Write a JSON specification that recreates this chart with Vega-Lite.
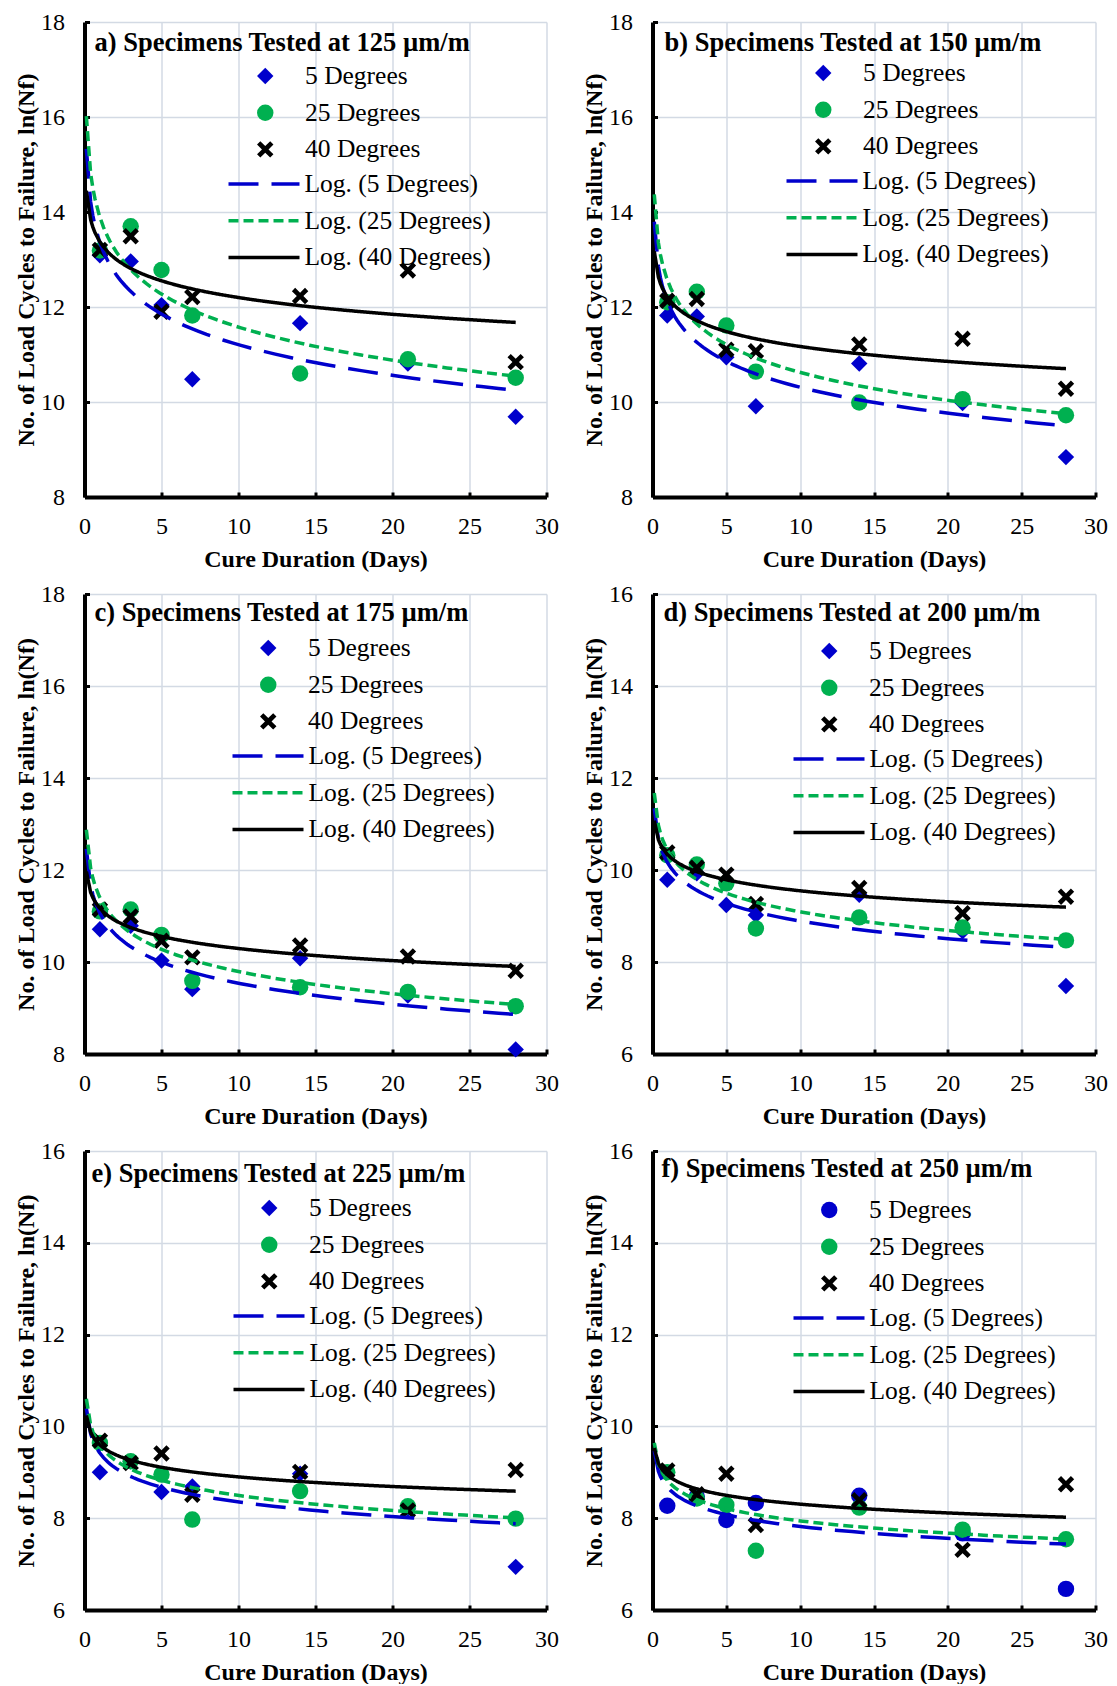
{
  "$schema": "https://vega.github.io/schema/vega-lite/v6.json",
  "background": "white",
  "padding": {"left": 14.5, "top": 10, "right": 0, "bottom": 0},
  "data": {"values": [
    {"p":"a","day":1,"v":13.09,"series":"5 Degrees","fit":"Log. (5 Degrees)"},
    {"p":"a","day":3,"v":12.96,"series":"5 Degrees","fit":"Log. (5 Degrees)"},
    {"p":"a","day":5,"v":12.04,"series":"5 Degrees","fit":"Log. (5 Degrees)"},
    {"p":"a","day":7,"v":10.48,"series":"5 Degrees","fit":"Log. (5 Degrees)"},
    {"p":"a","day":14,"v":11.66,"series":"5 Degrees","fit":"Log. (5 Degrees)"},
    {"p":"a","day":21,"v":10.81,"series":"5 Degrees","fit":"Log. (5 Degrees)"},
    {"p":"a","day":28,"v":9.69,"series":"5 Degrees","fit":"Log. (5 Degrees)"},
    {"p":"a","day":1,"v":13.19,"series":"25 Degrees","fit":"Log. (25 Degrees)"},
    {"p":"a","day":3,"v":13.70,"series":"25 Degrees","fit":"Log. (25 Degrees)"},
    {"p":"a","day":5,"v":12.78,"series":"25 Degrees","fit":"Log. (25 Degrees)"},
    {"p":"a","day":7,"v":11.82,"series":"25 Degrees","fit":"Log. (25 Degrees)"},
    {"p":"a","day":14,"v":10.60,"series":"25 Degrees","fit":"Log. (25 Degrees)"},
    {"p":"a","day":21,"v":10.90,"series":"25 Degrees","fit":"Log. (25 Degrees)"},
    {"p":"a","day":28,"v":10.51,"series":"25 Degrees","fit":"Log. (25 Degrees)"},
    {"p":"a","day":1,"v":13.20,"series":"40 Degrees","fit":"Log. (40 Degrees)"},
    {"p":"a","day":3,"v":13.49,"series":"40 Degrees","fit":"Log. (40 Degrees)"},
    {"p":"a","day":5,"v":11.90,"series":"40 Degrees","fit":"Log. (40 Degrees)"},
    {"p":"a","day":7,"v":12.21,"series":"40 Degrees","fit":"Log. (40 Degrees)"},
    {"p":"a","day":14,"v":12.23,"series":"40 Degrees","fit":"Log. (40 Degrees)"},
    {"p":"a","day":21,"v":12.77,"series":"40 Degrees","fit":"Log. (40 Degrees)"},
    {"p":"a","day":28,"v":10.84,"series":"40 Degrees","fit":"Log. (40 Degrees)"},

    {"p":"b","day":1,"v":11.82,"series":"5 Degrees","fit":"Log. (5 Degrees)"},
    {"p":"b","day":3,"v":11.80,"series":"5 Degrees","fit":"Log. (5 Degrees)"},
    {"p":"b","day":5,"v":10.94,"series":"5 Degrees","fit":"Log. (5 Degrees)"},
    {"p":"b","day":7,"v":9.91,"series":"5 Degrees","fit":"Log. (5 Degrees)"},
    {"p":"b","day":14,"v":10.81,"series":"5 Degrees","fit":"Log. (5 Degrees)"},
    {"p":"b","day":21,"v":9.98,"series":"5 Degrees","fit":"Log. (5 Degrees)"},
    {"p":"b","day":28,"v":8.84,"series":"5 Degrees","fit":"Log. (5 Degrees)"},
    {"p":"b","day":1,"v":12.10,"series":"25 Degrees","fit":"Log. (25 Degrees)"},
    {"p":"b","day":3,"v":12.32,"series":"25 Degrees","fit":"Log. (25 Degrees)"},
    {"p":"b","day":5,"v":11.61,"series":"25 Degrees","fit":"Log. (25 Degrees)"},
    {"p":"b","day":7,"v":10.64,"series":"25 Degrees","fit":"Log. (25 Degrees)"},
    {"p":"b","day":14,"v":9.99,"series":"25 Degrees","fit":"Log. (25 Degrees)"},
    {"p":"b","day":21,"v":10.06,"series":"25 Degrees","fit":"Log. (25 Degrees)"},
    {"p":"b","day":28,"v":9.72,"series":"25 Degrees","fit":"Log. (25 Degrees)"},
    {"p":"b","day":1,"v":12.13,"series":"40 Degrees","fit":"Log. (40 Degrees)"},
    {"p":"b","day":3,"v":12.17,"series":"40 Degrees","fit":"Log. (40 Degrees)"},
    {"p":"b","day":5,"v":11.10,"series":"40 Degrees","fit":"Log. (40 Degrees)"},
    {"p":"b","day":7,"v":11.07,"series":"40 Degrees","fit":"Log. (40 Degrees)"},
    {"p":"b","day":14,"v":11.21,"series":"40 Degrees","fit":"Log. (40 Degrees)"},
    {"p":"b","day":21,"v":11.33,"series":"40 Degrees","fit":"Log. (40 Degrees)"},
    {"p":"b","day":28,"v":10.28,"series":"40 Degrees","fit":"Log. (40 Degrees)"},

    {"p":"c","day":1,"v":10.71,"series":"5 Degrees","fit":"Log. (5 Degrees)"},
    {"p":"c","day":3,"v":10.79,"series":"5 Degrees","fit":"Log. (5 Degrees)"},
    {"p":"c","day":5,"v":10.03,"series":"5 Degrees","fit":"Log. (5 Degrees)"},
    {"p":"c","day":7,"v":9.41,"series":"5 Degrees","fit":"Log. (5 Degrees)"},
    {"p":"c","day":14,"v":10.08,"series":"5 Degrees","fit":"Log. (5 Degrees)"},
    {"p":"c","day":21,"v":9.27,"series":"5 Degrees","fit":"Log. (5 Degrees)"},
    {"p":"c","day":28,"v":8.10,"series":"5 Degrees","fit":"Log. (5 Degrees)"},
    {"p":"c","day":1,"v":11.10,"series":"25 Degrees","fit":"Log. (25 Degrees)"},
    {"p":"c","day":3,"v":11.14,"series":"25 Degrees","fit":"Log. (25 Degrees)"},
    {"p":"c","day":5,"v":10.59,"series":"25 Degrees","fit":"Log. (25 Degrees)"},
    {"p":"c","day":7,"v":9.59,"series":"25 Degrees","fit":"Log. (25 Degrees)"},
    {"p":"c","day":14,"v":9.45,"series":"25 Degrees","fit":"Log. (25 Degrees)"},
    {"p":"c","day":21,"v":9.35,"series":"25 Degrees","fit":"Log. (25 Degrees)"},
    {"p":"c","day":28,"v":9.04,"series":"25 Degrees","fit":"Log. (25 Degrees)"},
    {"p":"c","day":1,"v":11.14,"series":"40 Degrees","fit":"Log. (40 Degrees)"},
    {"p":"c","day":3,"v":10.99,"series":"40 Degrees","fit":"Log. (40 Degrees)"},
    {"p":"c","day":5,"v":10.46,"series":"40 Degrees","fit":"Log. (40 Degrees)"},
    {"p":"c","day":7,"v":10.10,"series":"40 Degrees","fit":"Log. (40 Degrees)"},
    {"p":"c","day":14,"v":10.36,"series":"40 Degrees","fit":"Log. (40 Degrees)"},
    {"p":"c","day":21,"v":10.12,"series":"40 Degrees","fit":"Log. (40 Degrees)"},
    {"p":"c","day":28,"v":9.81,"series":"40 Degrees","fit":"Log. (40 Degrees)"},

    {"p":"d","day":1,"v":9.79,"series":"5 Degrees","fit":"Log. (5 Degrees)"},
    {"p":"d","day":3,"v":9.93,"series":"5 Degrees","fit":"Log. (5 Degrees)"},
    {"p":"d","day":5,"v":9.24,"series":"5 Degrees","fit":"Log. (5 Degrees)"},
    {"p":"d","day":7,"v":9.02,"series":"5 Degrees","fit":"Log. (5 Degrees)"},
    {"p":"d","day":14,"v":9.46,"series":"5 Degrees","fit":"Log. (5 Degrees)"},
    {"p":"d","day":21,"v":8.67,"series":"5 Degrees","fit":"Log. (5 Degrees)"},
    {"p":"d","day":28,"v":7.48,"series":"5 Degrees","fit":"Log. (5 Degrees)"},
    {"p":"d","day":1,"v":10.32,"series":"25 Degrees","fit":"Log. (25 Degrees)"},
    {"p":"d","day":3,"v":10.12,"series":"25 Degrees","fit":"Log. (25 Degrees)"},
    {"p":"d","day":5,"v":9.71,"series":"25 Degrees","fit":"Log. (25 Degrees)"},
    {"p":"d","day":7,"v":8.73,"series":"25 Degrees","fit":"Log. (25 Degrees)"},
    {"p":"d","day":14,"v":8.97,"series":"25 Degrees","fit":"Log. (25 Degrees)"},
    {"p":"d","day":21,"v":8.75,"series":"25 Degrees","fit":"Log. (25 Degrees)"},
    {"p":"d","day":28,"v":8.47,"series":"25 Degrees","fit":"Log. (25 Degrees)"},
    {"p":"d","day":1,"v":10.38,"series":"40 Degrees","fit":"Log. (40 Degrees)"},
    {"p":"d","day":3,"v":10.05,"series":"40 Degrees","fit":"Log. (40 Degrees)"},
    {"p":"d","day":5,"v":9.90,"series":"40 Degrees","fit":"Log. (40 Degrees)"},
    {"p":"d","day":7,"v":9.26,"series":"40 Degrees","fit":"Log. (40 Degrees)"},
    {"p":"d","day":14,"v":9.61,"series":"40 Degrees","fit":"Log. (40 Degrees)"},
    {"p":"d","day":21,"v":9.06,"series":"40 Degrees","fit":"Log. (40 Degrees)"},
    {"p":"d","day":28,"v":9.42,"series":"40 Degrees","fit":"Log. (40 Degrees)"},

    {"p":"e","day":1,"v":9.00,"series":"5 Degrees","fit":"Log. (5 Degrees)"},
    {"p":"e","day":3,"v":9.24,"series":"5 Degrees","fit":"Log. (5 Degrees)"},
    {"p":"e","day":5,"v":8.57,"series":"5 Degrees","fit":"Log. (5 Degrees)"},
    {"p":"e","day":7,"v":8.69,"series":"5 Degrees","fit":"Log. (5 Degrees)"},
    {"p":"e","day":14,"v":8.97,"series":"5 Degrees","fit":"Log. (5 Degrees)"},
    {"p":"e","day":21,"v":8.20,"series":"5 Degrees","fit":"Log. (5 Degrees)"},
    {"p":"e","day":28,"v":6.94,"series":"5 Degrees","fit":"Log. (5 Degrees)"},
    {"p":"e","day":1,"v":9.64,"series":"25 Degrees","fit":"Log. (25 Degrees)"},
    {"p":"e","day":3,"v":9.24,"series":"25 Degrees","fit":"Log. (25 Degrees)"},
    {"p":"e","day":5,"v":8.95,"series":"25 Degrees","fit":"Log. (25 Degrees)"},
    {"p":"e","day":7,"v":7.97,"series":"25 Degrees","fit":"Log. (25 Degrees)"},
    {"p":"e","day":14,"v":8.59,"series":"25 Degrees","fit":"Log. (25 Degrees)"},
    {"p":"e","day":21,"v":8.26,"series":"25 Degrees","fit":"Log. (25 Degrees)"},
    {"p":"e","day":28,"v":7.99,"series":"25 Degrees","fit":"Log. (25 Degrees)"},
    {"p":"e","day":1,"v":9.69,"series":"40 Degrees","fit":"Log. (40 Degrees)"},
    {"p":"e","day":3,"v":9.20,"series":"40 Degrees","fit":"Log. (40 Degrees)"},
    {"p":"e","day":5,"v":9.41,"series":"40 Degrees","fit":"Log. (40 Degrees)"},
    {"p":"e","day":7,"v":8.51,"series":"40 Degrees","fit":"Log. (40 Degrees)"},
    {"p":"e","day":14,"v":9.01,"series":"40 Degrees","fit":"Log. (40 Degrees)"},
    {"p":"e","day":21,"v":8.17,"series":"40 Degrees","fit":"Log. (40 Degrees)"},
    {"p":"e","day":28,"v":9.05,"series":"40 Degrees","fit":"Log. (40 Degrees)"},

    {"p":"f","day":1,"v":8.27,"series":"5 Degrees","fit":"Log. (5 Degrees)"},
    {"p":"f","day":3,"v":8.47,"series":"5 Degrees","fit":"Log. (5 Degrees)"},
    {"p":"f","day":5,"v":7.96,"series":"5 Degrees","fit":"Log. (5 Degrees)"},
    {"p":"f","day":7,"v":8.33,"series":"5 Degrees","fit":"Log. (5 Degrees)"},
    {"p":"f","day":14,"v":8.49,"series":"5 Degrees","fit":"Log. (5 Degrees)"},
    {"p":"f","day":21,"v":7.67,"series":"5 Degrees","fit":"Log. (5 Degrees)"},
    {"p":"f","day":28,"v":6.46,"series":"5 Degrees","fit":"Log. (5 Degrees)"},
    {"p":"f","day":1,"v":9.00,"series":"25 Degrees","fit":"Log. (25 Degrees)"},
    {"p":"f","day":3,"v":8.43,"series":"25 Degrees","fit":"Log. (25 Degrees)"},
    {"p":"f","day":5,"v":8.29,"series":"25 Degrees","fit":"Log. (25 Degrees)"},
    {"p":"f","day":7,"v":7.29,"series":"25 Degrees","fit":"Log. (25 Degrees)"},
    {"p":"f","day":14,"v":8.23,"series":"25 Degrees","fit":"Log. (25 Degrees)"},
    {"p":"f","day":21,"v":7.75,"series":"25 Degrees","fit":"Log. (25 Degrees)"},
    {"p":"f","day":28,"v":7.54,"series":"25 Degrees","fit":"Log. (25 Degrees)"},
    {"p":"f","day":1,"v":9.04,"series":"40 Degrees","fit":"Log. (40 Degrees)"},
    {"p":"f","day":3,"v":8.52,"series":"40 Degrees","fit":"Log. (40 Degrees)"},
    {"p":"f","day":5,"v":8.97,"series":"40 Degrees","fit":"Log. (40 Degrees)"},
    {"p":"f","day":7,"v":7.85,"series":"40 Degrees","fit":"Log. (40 Degrees)"},
    {"p":"f","day":14,"v":8.39,"series":"40 Degrees","fit":"Log. (40 Degrees)"},
    {"p":"f","day":21,"v":7.31,"series":"40 Degrees","fit":"Log. (40 Degrees)"},
    {"p":"f","day":28,"v":8.74,"series":"40 Degrees","fit":"Log. (40 Degrees)"}
  ]},
  "columns": 2,
  "bounds": "flush",
  "spacing": {"row": 97, "column": 106},
  "concat": [
    {
      "width": 462, "height": 475,
      "title": {"text": "a) Specimens Tested at 125 µm/m", "dx": 10, "offset": -46},
      "transform": [{"filter": "datum.p == 'a'"}],
      "encoding": {
        "x": {"field": "day", "type": "quantitative", "scale": {"domain": [0, 30], "nice": false}, "axis": {"values": [0, 5, 10, 15, 20, 25, 30], "title": "Cure Duration (Days)", "grid": true}},
        "y": {"field": "v", "type": "quantitative", "scale": {"domain": [8, 18], "nice": false, "zero": false}, "axis": {"values": [8, 10, 12, 14, 16, 18], "title": "No. of Load Cycles to Failure, ln(Nf)", "grid": true}}
      },
      "layer": [
        {"mark": {"type": "point", "filled": true, "size": 270, "opacity": 1},
         "encoding": {
           "color": {"field": "series", "type": "nominal", "scale": {"domain": ["5 Degrees", "25 Degrees", "40 Degrees"], "range": ["#0000CC", "#00B050", "#000000"]}, "legend": {"title": null, "orient": "none", "legendX": 168, "legendY": 41, "symbolSize": 270, "symbolStrokeWidth": 0, "labelOffset": 27}},
           "shape": {"field": "series", "type": "nominal", "scale": {"domain": ["5 Degrees", "25 Degrees", "40 Degrees"], "range": ["diamond", "circle", "M-1,-0.6L-0.6,-1L0,-0.4L0.6,-1L1,-0.6L0.4,0L1,0.6L0.6,1L0,0.4L-0.6,1L-1,0.6L-0.4,0Z"]}, "legend": {"title": null, "orient": "none", "legendX": 168, "legendY": 41, "symbolSize": 270, "symbolStrokeWidth": 0, "labelOffset": 27}}
         }},
        {"transform": [{"regression": "v", "on": "day", "method": "log", "groupby": ["fit"], "extent": [0.12, 28]}],
         "mark": {"type": "line", "strokeWidth": 3.5},
         "encoding": {
           "color": {"field": "fit", "type": "nominal", "scale": {"domain": ["Log. (5 Degrees)", "Log. (25 Degrees)", "Log. (40 Degrees)"], "range": ["#0000CC", "#00B050", "#000000"]}, "legend": {"title": null, "orient": "none", "legendX": 142, "legendY": 149, "symbolSize": 5041, "symbolStrokeWidth": 3.5, "labelOffset": 3, "symbolType": "stroke"}},
           "strokeDash": {"field": "fit", "type": "nominal", "scale": {"domain": ["Log. (5 Degrees)", "Log. (25 Degrees)", "Log. (40 Degrees)"], "range": [[30, 13], [10, 5], [1, 0]]}, "legend": {"title": null, "orient": "none", "legendX": 142, "legendY": 149, "symbolSize": 5041, "symbolStrokeWidth": 3.5, "labelOffset": 3, "symbolType": "stroke"}}
         }}
      ],
      "resolve": {"scale": {"color": "independent", "shape": "independent", "strokeDash": "independent"}}
    },
    {
      "width": 443, "height": 475,
      "title": {"text": "b) Specimens Tested at 150 µm/m", "dx": 12, "offset": -46},
      "transform": [{"filter": "datum.p == 'b'"}],
      "encoding": {
        "x": {"field": "day", "type": "quantitative", "scale": {"domain": [0, 30], "nice": false}, "axis": {"values": [0, 5, 10, 15, 20, 25, 30], "title": "Cure Duration (Days)", "grid": true}},
        "y": {"field": "v", "type": "quantitative", "scale": {"domain": [8, 18], "nice": false, "zero": false}, "axis": {"values": [8, 10, 12, 14, 16, 18], "title": "No. of Load Cycles to Failure, ln(Nf)", "grid": true}}
      },
      "layer": [
        {"mark": {"type": "point", "filled": true, "size": 270, "opacity": 1},
         "encoding": {
           "color": {"field": "series", "type": "nominal", "scale": {"domain": ["5 Degrees", "25 Degrees", "40 Degrees"], "range": ["#0000CC", "#00B050", "#000000"]}, "legend": {"title": null, "orient": "none", "legendX": 158, "legendY": 38, "symbolSize": 270, "symbolStrokeWidth": 0, "labelOffset": 27}},
           "shape": {"field": "series", "type": "nominal", "scale": {"domain": ["5 Degrees", "25 Degrees", "40 Degrees"], "range": ["diamond", "circle", "M-1,-0.6L-0.6,-1L0,-0.4L0.6,-1L1,-0.6L0.4,0L1,0.6L0.6,1L0,0.4L-0.6,1L-1,0.6L-0.4,0Z"]}, "legend": {"title": null, "orient": "none", "legendX": 158, "legendY": 38, "symbolSize": 270, "symbolStrokeWidth": 0, "labelOffset": 27}}
         }},
        {"transform": [{"regression": "v", "on": "day", "method": "log", "groupby": ["fit"], "extent": [0.12, 28]}],
         "mark": {"type": "line", "strokeWidth": 3.5},
         "encoding": {
           "color": {"field": "fit", "type": "nominal", "scale": {"domain": ["Log. (5 Degrees)", "Log. (25 Degrees)", "Log. (40 Degrees)"], "range": ["#0000CC", "#00B050", "#000000"]}, "legend": {"title": null, "orient": "none", "legendX": 132, "legendY": 146, "symbolSize": 5041, "symbolStrokeWidth": 3.5, "labelOffset": 3, "symbolType": "stroke"}},
           "strokeDash": {"field": "fit", "type": "nominal", "scale": {"domain": ["Log. (5 Degrees)", "Log. (25 Degrees)", "Log. (40 Degrees)"], "range": [[30, 13], [10, 5], [1, 0]]}, "legend": {"title": null, "orient": "none", "legendX": 132, "legendY": 146, "symbolSize": 5041, "symbolStrokeWidth": 3.5, "labelOffset": 3, "symbolType": "stroke"}}
         }}
      ],
      "resolve": {"scale": {"color": "independent", "shape": "independent", "strokeDash": "independent"}}
    },
    {
      "width": 462, "height": 460,
      "title": {"text": "c) Specimens Tested at 175 µm/m", "dx": 10, "offset": -44},
      "transform": [{"filter": "datum.p == 'c'"}],
      "encoding": {
        "x": {"field": "day", "type": "quantitative", "scale": {"domain": [0, 30], "nice": false}, "axis": {"values": [0, 5, 10, 15, 20, 25, 30], "title": "Cure Duration (Days)", "grid": true}},
        "y": {"field": "v", "type": "quantitative", "scale": {"domain": [8, 18], "nice": false, "zero": false}, "axis": {"values": [8, 10, 12, 14, 16, 18], "title": "No. of Load Cycles to Failure, ln(Nf)", "grid": true}}
      },
      "layer": [
        {"mark": {"type": "point", "filled": true, "size": 270, "opacity": 1},
         "encoding": {
           "color": {"field": "series", "type": "nominal", "scale": {"domain": ["5 Degrees", "25 Degrees", "40 Degrees"], "range": ["#0000CC", "#00B050", "#000000"]}, "legend": {"title": null, "orient": "none", "legendX": 171, "legendY": 41, "symbolSize": 270, "symbolStrokeWidth": 0, "labelOffset": 27}},
           "shape": {"field": "series", "type": "nominal", "scale": {"domain": ["5 Degrees", "25 Degrees", "40 Degrees"], "range": ["diamond", "circle", "M-1,-0.6L-0.6,-1L0,-0.4L0.6,-1L1,-0.6L0.4,0L1,0.6L0.6,1L0,0.4L-0.6,1L-1,0.6L-0.4,0Z"]}, "legend": {"title": null, "orient": "none", "legendX": 171, "legendY": 41, "symbolSize": 270, "symbolStrokeWidth": 0, "labelOffset": 27}}
         }},
        {"transform": [{"regression": "v", "on": "day", "method": "log", "groupby": ["fit"], "extent": [0.12, 28]}],
         "mark": {"type": "line", "strokeWidth": 3.5},
         "encoding": {
           "color": {"field": "fit", "type": "nominal", "scale": {"domain": ["Log. (5 Degrees)", "Log. (25 Degrees)", "Log. (40 Degrees)"], "range": ["#0000CC", "#00B050", "#000000"]}, "legend": {"title": null, "orient": "none", "legendX": 146, "legendY": 149, "symbolSize": 5041, "symbolStrokeWidth": 3.5, "labelOffset": 3, "symbolType": "stroke"}},
           "strokeDash": {"field": "fit", "type": "nominal", "scale": {"domain": ["Log. (5 Degrees)", "Log. (25 Degrees)", "Log. (40 Degrees)"], "range": [[30, 13], [10, 5], [1, 0]]}, "legend": {"title": null, "orient": "none", "legendX": 146, "legendY": 149, "symbolSize": 5041, "symbolStrokeWidth": 3.5, "labelOffset": 3, "symbolType": "stroke"}}
         }}
      ],
      "resolve": {"scale": {"color": "independent", "shape": "independent", "strokeDash": "independent"}}
    },
    {
      "width": 443, "height": 460,
      "title": {"text": "d) Specimens Tested at 200 µm/m", "dx": 11, "offset": -44},
      "transform": [{"filter": "datum.p == 'd'"}],
      "encoding": {
        "x": {"field": "day", "type": "quantitative", "scale": {"domain": [0, 30], "nice": false}, "axis": {"values": [0, 5, 10, 15, 20, 25, 30], "title": "Cure Duration (Days)", "grid": true}},
        "y": {"field": "v", "type": "quantitative", "scale": {"domain": [6, 16], "nice": false, "zero": false}, "axis": {"values": [6, 8, 10, 12, 14, 16], "title": "No. of Load Cycles to Failure, ln(Nf)", "grid": true}}
      },
      "layer": [
        {"mark": {"type": "point", "filled": true, "size": 270, "opacity": 1},
         "encoding": {
           "color": {"field": "series", "type": "nominal", "scale": {"domain": ["5 Degrees", "25 Degrees", "40 Degrees"], "range": ["#0000CC", "#00B050", "#000000"]}, "legend": {"title": null, "orient": "none", "legendX": 164, "legendY": 44, "symbolSize": 270, "symbolStrokeWidth": 0, "labelOffset": 27}},
           "shape": {"field": "series", "type": "nominal", "scale": {"domain": ["5 Degrees", "25 Degrees", "40 Degrees"], "range": ["diamond", "circle", "M-1,-0.6L-0.6,-1L0,-0.4L0.6,-1L1,-0.6L0.4,0L1,0.6L0.6,1L0,0.4L-0.6,1L-1,0.6L-0.4,0Z"]}, "legend": {"title": null, "orient": "none", "legendX": 164, "legendY": 44, "symbolSize": 270, "symbolStrokeWidth": 0, "labelOffset": 27}}
         }},
        {"transform": [{"regression": "v", "on": "day", "method": "log", "groupby": ["fit"], "extent": [0.12, 28]}],
         "mark": {"type": "line", "strokeWidth": 3.5},
         "encoding": {
           "color": {"field": "fit", "type": "nominal", "scale": {"domain": ["Log. (5 Degrees)", "Log. (25 Degrees)", "Log. (40 Degrees)"], "range": ["#0000CC", "#00B050", "#000000"]}, "legend": {"title": null, "orient": "none", "legendX": 139, "legendY": 152, "symbolSize": 5041, "symbolStrokeWidth": 3.5, "labelOffset": 3, "symbolType": "stroke"}},
           "strokeDash": {"field": "fit", "type": "nominal", "scale": {"domain": ["Log. (5 Degrees)", "Log. (25 Degrees)", "Log. (40 Degrees)"], "range": [[30, 13], [10, 5], [1, 0]]}, "legend": {"title": null, "orient": "none", "legendX": 139, "legendY": 152, "symbolSize": 5041, "symbolStrokeWidth": 3.5, "labelOffset": 3, "symbolType": "stroke"}}
         }}
      ],
      "resolve": {"scale": {"color": "independent", "shape": "independent", "strokeDash": "independent"}}
    },
    {
      "width": 462, "height": 459,
      "title": {"text": "e) Specimens Tested at 225 µm/m", "dx": 7, "offset": -48},
      "transform": [{"filter": "datum.p == 'e'"}],
      "encoding": {
        "x": {"field": "day", "type": "quantitative", "scale": {"domain": [0, 30], "nice": false}, "axis": {"values": [0, 5, 10, 15, 20, 25, 30], "title": "Cure Duration (Days)", "grid": true}},
        "y": {"field": "v", "type": "quantitative", "scale": {"domain": [6, 16], "nice": false, "zero": false}, "axis": {"values": [6, 8, 10, 12, 14, 16], "title": "No. of Load Cycles to Failure, ln(Nf)", "grid": true}}
      },
      "layer": [
        {"mark": {"type": "point", "filled": true, "size": 270, "opacity": 1},
         "encoding": {
           "color": {"field": "series", "type": "nominal", "scale": {"domain": ["5 Degrees", "25 Degrees", "40 Degrees"], "range": ["#0000CC", "#00B050", "#000000"]}, "legend": {"title": null, "orient": "none", "legendX": 172, "legendY": 44, "symbolSize": 270, "symbolStrokeWidth": 0, "labelOffset": 27}},
           "shape": {"field": "series", "type": "nominal", "scale": {"domain": ["5 Degrees", "25 Degrees", "40 Degrees"], "range": ["diamond", "circle", "M-1,-0.6L-0.6,-1L0,-0.4L0.6,-1L1,-0.6L0.4,0L1,0.6L0.6,1L0,0.4L-0.6,1L-1,0.6L-0.4,0Z"]}, "legend": {"title": null, "orient": "none", "legendX": 172, "legendY": 44, "symbolSize": 270, "symbolStrokeWidth": 0, "labelOffset": 27}}
         }},
        {"transform": [{"regression": "v", "on": "day", "method": "log", "groupby": ["fit"], "extent": [0.12, 28]}],
         "mark": {"type": "line", "strokeWidth": 3.5},
         "encoding": {
           "color": {"field": "fit", "type": "nominal", "scale": {"domain": ["Log. (5 Degrees)", "Log. (25 Degrees)", "Log. (40 Degrees)"], "range": ["#0000CC", "#00B050", "#000000"]}, "legend": {"title": null, "orient": "none", "legendX": 147, "legendY": 152, "symbolSize": 5041, "symbolStrokeWidth": 3.5, "labelOffset": 3, "symbolType": "stroke"}},
           "strokeDash": {"field": "fit", "type": "nominal", "scale": {"domain": ["Log. (5 Degrees)", "Log. (25 Degrees)", "Log. (40 Degrees)"], "range": [[30, 13], [10, 5], [1, 0]]}, "legend": {"title": null, "orient": "none", "legendX": 147, "legendY": 152, "symbolSize": 5041, "symbolStrokeWidth": 3.5, "labelOffset": 3, "symbolType": "stroke"}}
         }}
      ],
      "resolve": {"scale": {"color": "independent", "shape": "independent", "strokeDash": "independent"}}
    },
    {
      "width": 443, "height": 459,
      "title": {"text": "f) Specimens Tested at 250 µm/m", "dx": 9, "offset": -43},
      "transform": [{"filter": "datum.p == 'f'"}],
      "encoding": {
        "x": {"field": "day", "type": "quantitative", "scale": {"domain": [0, 30], "nice": false}, "axis": {"values": [0, 5, 10, 15, 20, 25, 30], "title": "Cure Duration (Days)", "grid": true}},
        "y": {"field": "v", "type": "quantitative", "scale": {"domain": [6, 16], "nice": false, "zero": false}, "axis": {"values": [6, 8, 10, 12, 14, 16], "title": "No. of Load Cycles to Failure, ln(Nf)", "grid": true}}
      },
      "layer": [
        {"mark": {"type": "point", "filled": true, "size": 270, "opacity": 1},
         "encoding": {
           "color": {"field": "series", "type": "nominal", "scale": {"domain": ["5 Degrees", "25 Degrees", "40 Degrees"], "range": ["#0000CC", "#00B050", "#000000"]}, "legend": {"title": null, "orient": "none", "legendX": 164, "legendY": 46, "symbolSize": 270, "symbolStrokeWidth": 0, "labelOffset": 27}},
           "shape": {"field": "series", "type": "nominal", "scale": {"domain": ["5 Degrees", "25 Degrees", "40 Degrees"], "range": ["circle", "circle", "M-1,-0.6L-0.6,-1L0,-0.4L0.6,-1L1,-0.6L0.4,0L1,0.6L0.6,1L0,0.4L-0.6,1L-1,0.6L-0.4,0Z"]}, "legend": {"title": null, "orient": "none", "legendX": 164, "legendY": 46, "symbolSize": 270, "symbolStrokeWidth": 0, "labelOffset": 27}}
         }},
        {"transform": [{"regression": "v", "on": "day", "method": "log", "groupby": ["fit"], "extent": [0.12, 28]}],
         "mark": {"type": "line", "strokeWidth": 3.5},
         "encoding": {
           "color": {"field": "fit", "type": "nominal", "scale": {"domain": ["Log. (5 Degrees)", "Log. (25 Degrees)", "Log. (40 Degrees)"], "range": ["#0000CC", "#00B050", "#000000"]}, "legend": {"title": null, "orient": "none", "legendX": 139, "legendY": 154, "symbolSize": 5041, "symbolStrokeWidth": 3.5, "labelOffset": 3, "symbolType": "stroke"}},
           "strokeDash": {"field": "fit", "type": "nominal", "scale": {"domain": ["Log. (5 Degrees)", "Log. (25 Degrees)", "Log. (40 Degrees)"], "range": [[30, 13], [10, 5], [1, 0]]}, "legend": {"title": null, "orient": "none", "legendX": 139, "legendY": 154, "symbolSize": 5041, "symbolStrokeWidth": 3.5, "labelOffset": 3, "symbolType": "stroke"}}
         }}
      ],
      "resolve": {"scale": {"color": "independent", "shape": "independent", "strokeDash": "independent"}}
    }
  ],
  "config": {
    "font": "Liberation Serif",
    "view": {"stroke": null},
    "title": {"font": "Liberation Serif", "fontSize": 26.5, "fontWeight": "bold", "color": "black", "anchor": "start", "frame": "group", "baseline": "bottom"},
    "axis": {
      "grid": true, "gridColor": "#D3DAE4", "gridWidth": 1.5, "gridOpacity": 1,
      "domainColor": "black", "domainWidth": 4, "tickColor": "black", "tickWidth": 3, "tickSize": -5,
      "labelFont": "Liberation Serif", "labelFontSize": 24, "labelColor": "black", "labelFlush": false, "labelOverlap": false,
      "titleFont": "Liberation Serif", "titleFontSize": 24, "titleFontWeight": "bold", "titleColor": "black"
    },
    "axisX": {"labelPadding": 22, "titlePadding": 9},
    "axisY": {"labelPadding": 25, "titlePadding": 2},
    "legend": {"labelFont": "Liberation Serif", "labelFontSize": 25.5, "labelColor": "black", "labelLimit": 400, "padding": 0, "clipHeight": 26, "rowPadding": 9.7}
  }
}
